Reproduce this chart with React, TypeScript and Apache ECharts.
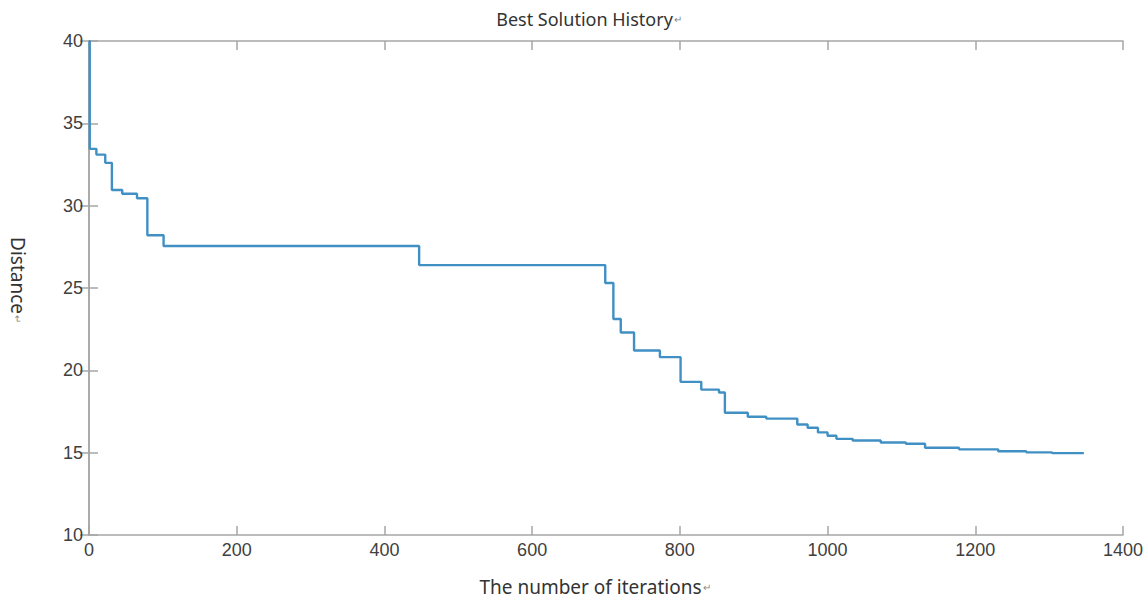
import React, { useEffect, useRef } from "react";
import * as echarts from "echarts";

const iterations = [0, 1, 10, 22, 31, 45, 65, 79, 101, 447, 699, 710, 720, 738, 773, 801, 829, 853, 861, 892, 917, 959, 973, 987, 1000, 1012, 1034, 1072, 1106, 1132, 1178, 1231, 1269, 1304, 1347];
const distances = [40, 33.45, 33.1, 32.6, 30.95, 30.72, 30.45, 28.2, 27.55, 26.39, 25.3, 23.12, 22.3, 21.2, 20.8, 19.3, 18.83, 18.65, 17.42, 17.18, 17.07, 16.71, 16.51, 16.23, 16.03, 15.84, 15.74, 15.62, 15.54, 15.3, 15.2, 15.09, 15.02, 14.97, 14.97];

const titleText = "Best Solution History";
const xName = "The number of iterations";
const yName = "Distance";

export default function App() {
  const ref = useRef<HTMLDivElement>(null);
  useEffect(() => {
    if (!ref.current) return;
    const chart = echarts.init(ref.current, null, { renderer: "svg" });
    const axisColor = "#a6a6a6";
    const labelColor = "#404040";
    const mark = { fontSize: 10, color: "#888", padding: [0, 0, 0, 1] };
    const data = iterations.map((x, i) => [x, distances[i]]);
    chart.setOption({
      animation: false,
      backgroundColor: "#ffffff",
      title: {
        text: titleText + "{m|↵}",
        left: 584,
        textAlign: "center",
        top: 5,
        textStyle: {
          fontFamily: "Noto Sans",
          fontSize: 18,
          fontWeight: "normal",
          color: "#333",
          rich: { m: mark },
        },
      },
      grid: { left: 88, right: 18, top: 41, bottom: 54, containLabel: false },
      xAxis: [
        {
          type: "value",
          min: 0,
          max: 1400,
          interval: 200,
          name: xName + "{m|↵}",
          nameLocation: "middle",
          nameGap: 42,
          nameTextStyle: { fontFamily: "Noto Sans", fontSize: 19, color: "#333", padding: [0, 22, 0, 0], rich: { m: mark } },
          axisLine: { show: true, lineStyle: { color: axisColor, width: 1.5 } },
          axisTick: { show: true, inside: true, length: 9, lineStyle: { color: axisColor, width: 1.5 } },
          axisLabel: { color: labelColor, fontSize: 18, fontFamily: "Liberation Sans", margin: 6, formatter: (v: number) => String(v) },
          splitLine: { show: false },
        },
        {
          type: "value",
          position: "top",
          min: 0,
          max: 1400,
          interval: 200,
          axisLine: { show: true, lineStyle: { color: axisColor, width: 1.5 } },
          axisTick: { show: true, inside: true, length: 9, lineStyle: { color: axisColor, width: 1.5 } },
          axisLabel: { show: false },
          splitLine: { show: false },
        },
      ],
      yAxis: [
        {
          type: "value",
          min: 10,
          max: 40,
          interval: 5,
          name: yName + "{m|↵}",
          nameLocation: "middle",
          nameRotate: -90,
          nameGap: 62,
          nameTextStyle: { fontFamily: "Noto Sans", fontSize: 19, color: "#333", padding: [0, 16, 0, 0], rich: { m: mark } },
          axisLine: { show: true, lineStyle: { color: axisColor, width: 1.5 } },
          axisTick: { show: true, inside: true, length: 9, lineStyle: { color: axisColor, width: 1.5 } },
          axisLabel: { color: labelColor, fontSize: 18, fontFamily: "Liberation Sans", margin: 6 },
          splitLine: { show: false },
        },
        {
          type: "value",
          position: "right",
          min: 10,
          max: 40,
          interval: 5,
          axisLine: { show: true, lineStyle: { color: axisColor, width: 1.5 } },
          axisTick: { show: true, inside: true, length: 9, lineStyle: { color: axisColor, width: 1.5 } },
          axisLabel: { show: false },
          splitLine: { show: false },
        },
      ],
      series: [
        {
          type: "line",
          xAxisIndex: 0,
          yAxisIndex: 0,
          step: "end",
          data,
          showSymbol: false,
          symbol: "none",
          lineStyle: { color: "#4090c4", width: 2.4 },
        },
      ],
    });
    return () => chart.dispose();
  }, []);
  return <div ref={ref} style={{ width: 1146, height: 601, position: "absolute", left: 0, top: 0 }} />;
}
